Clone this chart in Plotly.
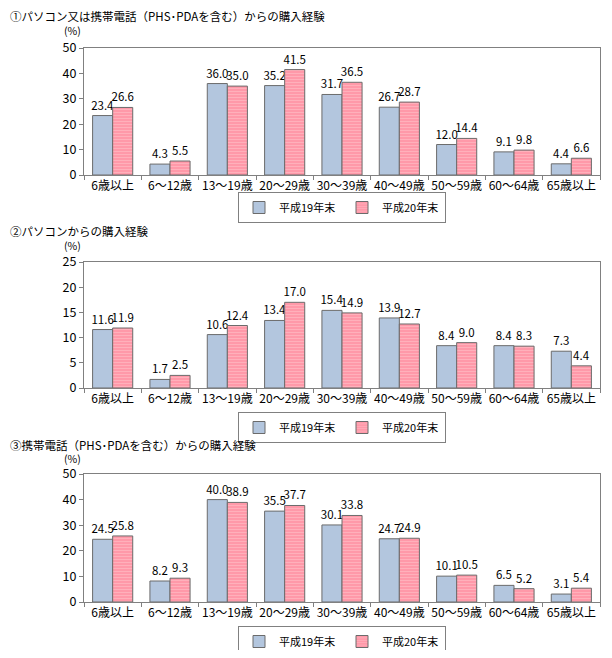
import plotly.graph_objects as go

categories = ["6歳以上", "6～12歳", "13～19歳", "20～29歳", "30～39歳",
              "40～49歳", "50～59歳", "60～64歳", "65歳以上"]
series_names = ["平成19年末", "平成20年末"]

pc_or_mobile_h19 = [23.4, 4.3, 36.0, 35.2, 31.7, 26.7, 12.0, 9.1, 4.4]
pc_or_mobile_h20 = [26.6, 5.5, 35.0, 41.5, 36.5, 28.7, 14.4, 9.8, 6.6]
pc_h19 = [11.6, 1.7, 10.6, 13.4, 15.4, 13.9, 8.4, 8.4, 7.3]
pc_h20 = [11.9, 2.5, 12.4, 17.0, 14.9, 12.7, 9.0, 8.3, 4.4]
mobile_h19 = [24.5, 8.2, 40.0, 35.5, 30.1, 24.7, 10.1, 6.5, 3.1]
mobile_h20 = [25.8, 9.3, 38.9, 37.7, 33.8, 24.9, 10.5, 5.2, 5.4]

titles = ["①パソコン又は携帯電話（PHS･PDAを含む）からの購入経験",
          "②パソコンからの購入経験",
          "③携帯電話（PHS･PDAを含む）からの購入経験"]
y_max = [50, 25, 50]
y_dtick = [10, 5, 10]

# page body has an 8px margin; size the figure so it fits the 612x658 window
OFF = 8
W, H = 612 - 2 * OFF, 658 - 2 * OFF
FONT = "Noto Sans CJK JP"
AXC = "#808080"

# pixel layout in window coordinates (top, bottom) of each plot area
panels = [(48, 175), (262, 388), (474, 602)]
title_y = [16.5, 230.5, 444.5]
pct_y = [31, 245.5, 458.5]
legend_top = [192, 412, 626]
x0, x1 = 84, 600


def px(xw):
    return (xw - OFF) / W


def py(yw):
    return 1 - (yw - OFF) / H


data_sets = [(pc_or_mobile_h19, pc_or_mobile_h20),
             (pc_h19, pc_h20),
             (mobile_h19, mobile_h20)]

fig = go.Figure()
legend_keys = ["legend", "legend2", "legend3"]
for i, (a, b) in enumerate(data_sets):
    xa = "x" if i == 0 else f"x{i+1}"
    ya = "y" if i == 0 else f"y{i+1}"
    fig.add_trace(go.Bar(
        x=categories, y=a, name=series_names[0], xaxis=xa, yaxis=ya,
        legend=legend_keys[i],
        marker=dict(color="#b3c6de", line=dict(color="#6b6b6b", width=1)),
        text=a, texttemplate="%{y:.1f}", textposition="outside",
        constraintext="none", cliponaxis=False,
        textfont=dict(family=FONT, size=11.5, color="black"),
    ))
    fig.add_trace(go.Bar(
        x=categories, y=b, name=series_names[1], xaxis=xa, yaxis=ya,
        legend=legend_keys[i],
        marker=dict(color="#ff97a6", line=dict(color="#6b6b6b", width=1),
                    pattern=dict(shape="-", fgcolor="#ffc9d0", bgcolor="#ff97a6",
                                 size=3, solidity=0.4)),
        text=b, texttemplate="%{y:.1f}", textposition="outside",
        constraintext="none", cliponaxis=False,
        textfont=dict(family=FONT, size=11.5, color="black"),
    ))

layout = dict(
    width=W, height=H, autosize=False,
    margin=dict(l=0, r=0, t=0, b=0, pad=0, autoexpand=False),
    paper_bgcolor="white", plot_bgcolor="white",
    barmode="group", bargap=0.3, bargroupgap=0,
    font=dict(family=FONT, size=12, color="black"),
    annotations=[],
)
for i, (top, bot) in enumerate(panels):
    sfx = "" if i == 0 else str(i + 1)
    layout["xaxis" + sfx] = dict(
        domain=[px(x0), px(x1)], anchor="y" + sfx,
        showline=True, linecolor=AXC, linewidth=1, mirror=True,
        ticks="outside", tickson="boundaries", ticklen=4, tickcolor=AXC,
        showgrid=False, tickangle=0, automargin=False,
        tickfont=dict(family=FONT, size=12, color="black"),
        fixedrange=True,
    )
    layout["yaxis" + sfx] = dict(
        domain=[py(bot), py(top)], anchor="x" + sfx,
        range=[0, y_max[i]], dtick=y_dtick[i],
        showline=True, linecolor=AXC, linewidth=1, mirror=True,
        ticks="outside", ticklen=4, tickcolor=AXC,
        showgrid=False, zeroline=False, automargin=False,
        tickfont=dict(family=FONT, size=12.5, color="black"),
        fixedrange=True,
    )
    layout["legend" + ("" if i == 0 else str(i + 1))] = dict(
        orientation="h", x=px((x0 + x1) / 2), xanchor="center",
        y=py(legend_top[i]), yanchor="top",
        bordercolor=AXC, borderwidth=1, bgcolor="white",
        font=dict(family=FONT, size=11, color="black"),
        itemwidth=30, tracegroupgap=0,
        entrywidthmode="pixels", entrywidth=58,
    )
    layout["annotations"].append(dict(
        text=titles[i], xref="paper", yref="paper", x=px(8), y=py(title_y[i]),
        xanchor="left", yanchor="middle", showarrow=False,
        font=dict(family=FONT, size=11.5, color="black"),
    ))
    layout["annotations"].append(dict(
        text="(%)", xref="paper", yref="paper", x=px(72), y=py(pct_y[i]),
        xanchor="center", yanchor="middle", showarrow=False,
        font=dict(family=FONT, size=10.5, color="black"),
    ))

fig.update_layout(**layout)
fig.write_html("out.html", config={"displayModeBar": False})
